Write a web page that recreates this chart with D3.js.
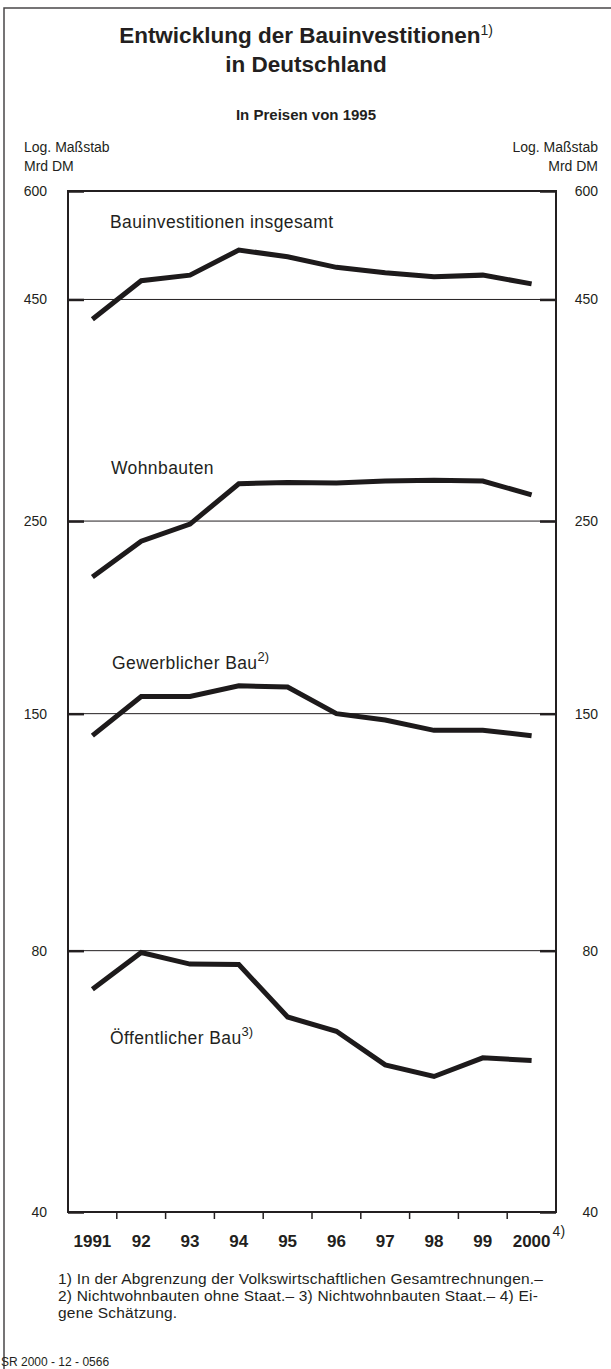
<!doctype html>
<html lang="de">
<head>
<meta charset="utf-8">
<title>Entwicklung der Bauinvestitionen in Deutschland</title>
<script src="https://cdn.jsdelivr.net/npm/d3@7/dist/d3.min.js"></script>
<style>
	body { margin: 0; background: #fff; }
	text { font-family: "Liberation Sans", Arial, Helvetica, sans-serif; fill: #231f20; }
	.frame { fill: none; stroke: #231f20; stroke-width: 2; }
	.grid line { stroke: #231f20; stroke-width: 1; }
	.series { fill: none; stroke: #1d1a1b; stroke-width: 5; stroke-linejoin: miter; }
</style>
</head>
<body>
<div id="viz"></div>
<script>
// DATA
var years = [1991, 1992, 1993, 1994, 1995, 1996, 1997, 1998, 1999, 2000];
var yearLabels = ["1991", "92", "93", "94", "95", "96", "97", "98", "99", "2000"];
var yTicks = [40, 80, 150, 250, 450, 600];

var bauGesamt   = [427, 473, 480, 513, 504, 490, 483, 478, 480, 469];
var wohnbauten  = [215.5, 237, 248, 276, 277, 276.5, 278, 278.5, 278, 268];
var gewerblich  = [141.5, 157, 157, 161.5, 161, 150, 147.5, 143.5, 143.5, 141.5];
var oeffentlich = [72.2, 79.6, 77.2, 77.1, 67.1, 64.6, 59.1, 57.3, 60.2, 59.8];

var seriesNames = ["Bauinvestitionen insgesamt", "Wohnbauten", "Gewerblicher Bau", "Öffentlicher Bau"];
var seriesNotes = ["", "", "2)", "3)"];

(function (d3) {

	var w = 611, h = 1369;
	var plot = {left: 68, right: 556, top: 191, bottom: 1212};
	var seriesValues = [bauGesamt, wohnbauten, gewerblich, oeffentlich];

	// SCALES
	var xScale = d3.scaleBand().domain(years).range([plot.left, plot.right]);
	var yScale = d3.scaleLog().domain([40, 600]).range([plot.bottom, plot.top]);

	var svg = d3.select("#viz").append("svg")
		.attr("width", w)
		.attr("height", h);

	// outer border (top and left)
	svg.append("path")
		.attr("d", "M4,1369V8H611")
		.attr("fill", "none")
		.attr("stroke", "#4a4748")
		.attr("stroke-width", 1.5);

	// TITLES
	var title = svg.append("text")
		.attr("x", 306).attr("y", 43)
		.attr("text-anchor", "middle")
		.style("font-size", "22.5px").style("font-weight", "bold");
	title.append("tspan").text("Entwicklung der Bauinvestitionen");
	title.append("tspan").attr("dy", -8).style("font-size", "14px").style("font-weight", "normal").text("1)");

	svg.append("text")
		.attr("x", 306).attr("y", 72)
		.attr("text-anchor", "middle")
		.style("font-size", "22.5px").style("font-weight", "bold")
		.text("in Deutschland");

	svg.append("text")
		.attr("x", 306).attr("y", 120)
		.attr("text-anchor", "middle")
		.style("font-size", "15px").style("font-weight", "bold")
		.text("In Preisen von 1995");

	[["Log. Maßstab", 152], ["Mrd DM", 171]].forEach(function (t) {
		svg.append("text").attr("x", 24).attr("y", t[1]).style("font-size", "14px").text(t[0]);
		svg.append("text").attr("x", 598).attr("y", t[1]).attr("text-anchor", "end").style("font-size", "14px").text(t[0]);
	});

	// GRID lines
	svg.append("g").attr("class", "grid")
		.selectAll("line")
		.data(yTicks.filter(function (d) { return d > 40 && d < 600; }))
		.enter().append("line")
		.attr("x1", plot.left).attr("x2", plot.right)
		.attr("y1", function (d) { return yScale(d); })
		.attr("y2", function (d) { return yScale(d); });

	// AXES (inner ticks on both sides)
	var yLeft = d3.axisLeft(yScale).tickValues(yTicks).tickFormat(d3.format("d")).tickSize(-16).tickPadding(21);
	var yRight = d3.axisRight(yScale).tickValues(yTicks).tickFormat(d3.format("d")).tickSize(-16).tickPadding(21);

	var gl = svg.append("g").attr("transform", "translate(" + plot.left + ",0)").call(yLeft);
	var gr = svg.append("g").attr("transform", "translate(" + plot.right + ",0)").call(yRight);
	[gl, gr].forEach(function (g) {
		g.select(".domain").remove();
		g.selectAll(".tick line").attr("stroke", "#231f20").attr("stroke-width", 2.5);
		g.selectAll(".tick text").style("font-size", "14px").attr("fill", "#231f20")
			.style("font-family", "'Liberation Sans', Arial, sans-serif");
	});
	gr.selectAll(".tick text").attr("text-anchor", "end").attr("x", 598 - plot.right);

	var xAxis = d3.axisBottom(xScale).tickSize(0).tickPadding(23)
		.tickFormat(function (d, i) { return yearLabels[i]; });
	var gx = svg.append("g").attr("transform", "translate(0," + plot.bottom + ")").call(xAxis);
	gx.select(".domain").remove();
	gx.selectAll(".tick text").style("font-size", "17px").style("font-weight", "bold")
		.attr("fill", "#231f20").style("font-family", "'Liberation Sans', Arial, sans-serif");

	// x tick marks at band boundaries
	svg.append("g").selectAll("line")
		.data(years.slice(1))
		.enter().append("line")
		.attr("x1", function (d) { return xScale(d); })
		.attr("x2", function (d) { return xScale(d); })
		.attr("y1", plot.bottom).attr("y2", plot.bottom + 7)
		.attr("stroke", "#231f20").attr("stroke-width", 1.5);

	// footnote mark on 2000
	svg.append("text")
		.attr("x", xScale(2000) + xScale.bandwidth() / 2 + 21)
		.attr("y", plot.bottom + 24)
		.style("font-size", "14px")
		.text("4)");

	// FRAME
	svg.append("rect").attr("class", "frame")
		.attr("x", plot.left).attr("y", plot.top)
		.attr("width", plot.right - plot.left).attr("height", plot.bottom - plot.top);

	// SERIES
	var line = d3.line()
		.x(function (d, i) { return xScale(years[i]) + xScale.bandwidth() / 2; })
		.y(function (d) { return yScale(d); });

	svg.selectAll("path.series")
		.data(seriesValues)
		.enter().append("path")
		.attr("class", "series")
		.attr("d", line);

	// series labels
	var labelPos = [[110, 228], [111, 474], [112, 669], [110, 1044]];
	seriesNames.forEach(function (name, i) {
		var t = svg.append("text")
			.attr("x", labelPos[i][0]).attr("y", labelPos[i][1])
			.style("font-size", "17.5px")
			.style("letter-spacing", "0.4px");
		t.append("tspan").text(name);
		if (seriesNotes[i]) {
			t.append("tspan").attr("dy", -8).style("font-size", "13px").style("letter-spacing", "0px").text(seriesNotes[i]);
		}
	});

	// FOOTNOTES
	var notes = [
		"1) In der Abgrenzung der Volkswirtschaftlichen Gesamtrechnungen.–",
		"2) Nichtwohnbauten ohne Staat.– 3) Nichtwohnbauten Staat.– 4) Ei-",
		"gene Schätzung."
	];
	svg.selectAll("text.note")
		.data(notes)
		.enter().append("text")
		.attr("class", "note")
		.attr("x", 58)
		.attr("y", function (d, i) { return 1284 + i * 17; })
		.style("font-size", "15.5px")
		.style("letter-spacing", "0.2px")
		.text(function (d) { return d; });

	svg.append("text")
		.attr("x", 1).attr("y", 1366)
		.style("font-size", "12px")
		.text("SR 2000 - 12 - 0566");

})(d3);
</script>
</body>
</html>
